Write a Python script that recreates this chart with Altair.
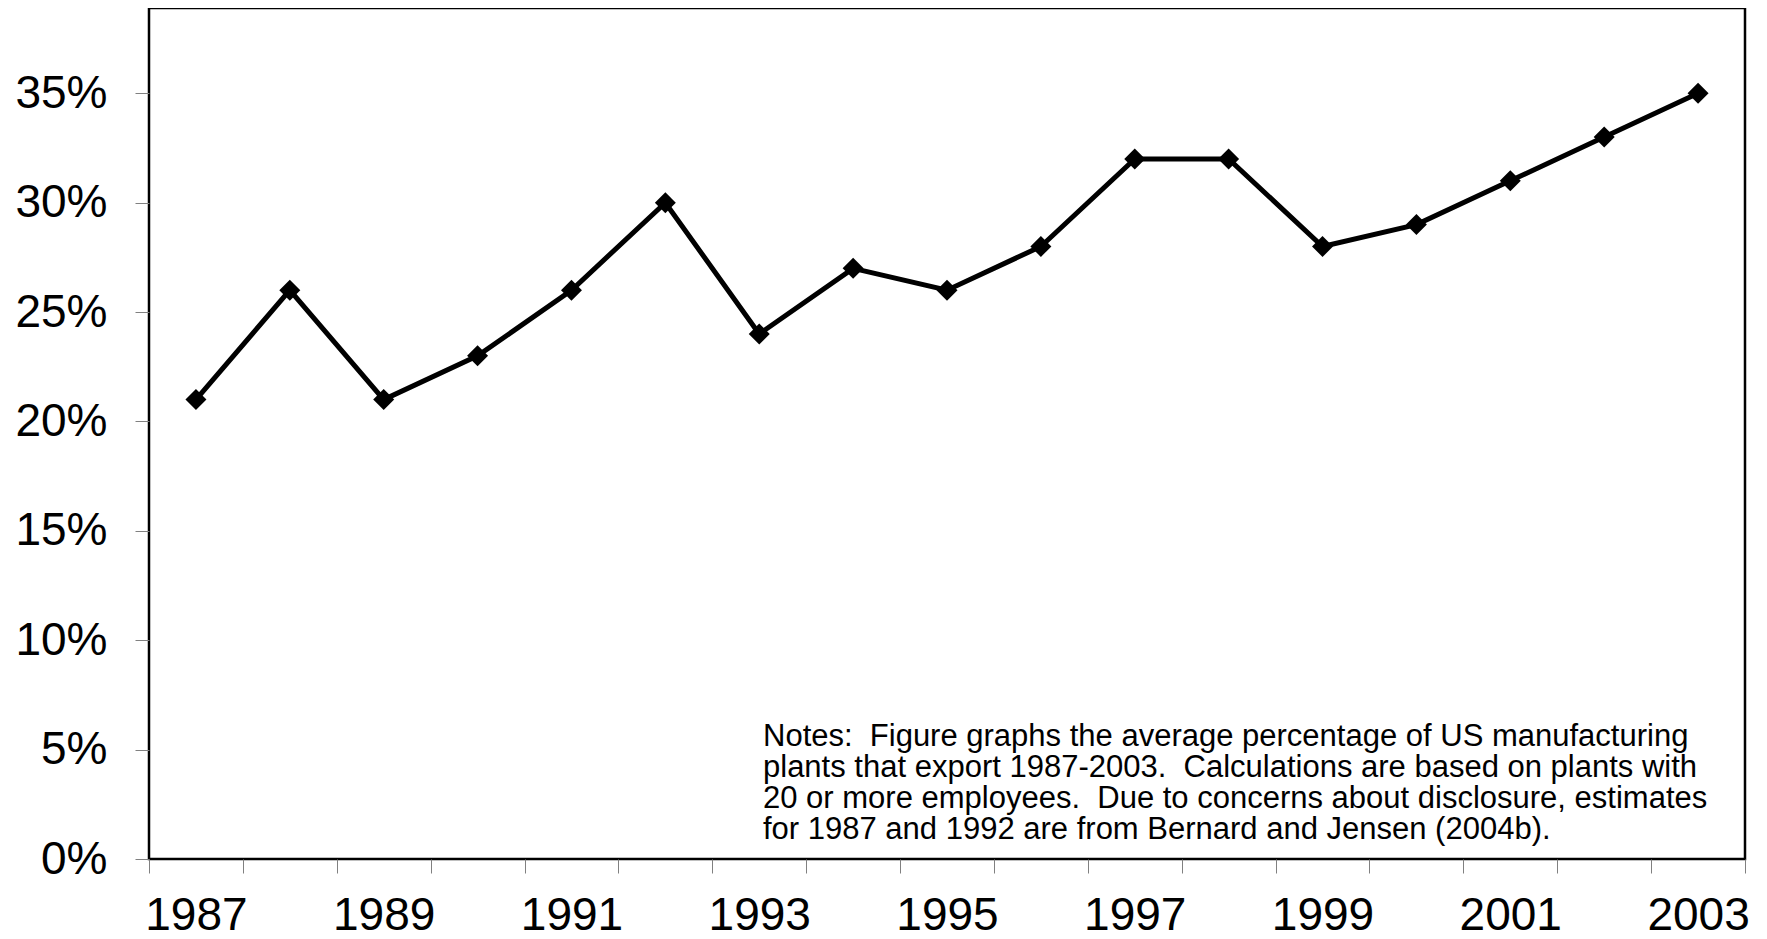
import altair as alt
import pandas as pd

years = [str(y) for y in range(1987, 2004)]
share = [0.21, 0.26, 0.21, 0.23, 0.26, 0.30, 0.24, 0.27, 0.26, 0.28,
         0.32, 0.32, 0.28, 0.29, 0.31, 0.33, 0.35]
y_ticks = [0, 0.05, 0.10, 0.15, 0.20, 0.25, 0.30, 0.35]
NB = "\u00a0"
notes_lines = [
    "Notes:" + NB + " Figure graphs the average percentage of US manufacturing",
    "plants that export 1987-2003." + NB + " Calculations are based on plants with",
    "20 or more employees." + NB + " Due to concerns about disclosure, estimates",
    "for 1987 and 1992 are from Bernard and Jensen (2004b).",
]

df = pd.DataFrame({"year": years, "share": share})

W, H = 1596, 851
FONT = "Liberation Sans"

x_enc = alt.X(
    "year:O",
    sort=years,
    scale=alt.Scale(type="band", paddingInner=0, paddingOuter=0),
    axis=alt.Axis(
        title=None,
        tickBand="extent",
        labelExpr="toNumber(datum.value) % 2 == 1 ? datum.label : ''",
        labelOverlap=False,
        labelBound=False,
        labelAngle=0,
        labelFont=FONT,
        labelFontSize=46,
        labelColor="black",
        labelPadding=20,
        labelBaseline="top",
        tickColor="#808080",
        tickWidth=1,
        tickSize=14,
        domain=False,
        grid=False,
    ),
)
y_enc = alt.Y(
    "share:Q",
    scale=alt.Scale(domain=[0, 0.389], nice=False, zero=True),
    axis=alt.Axis(
        title=None,
        values=y_ticks,
        format=".0%",
        labelFont=FONT,
        labelFontSize=46,
        labelColor="black",
        labelPadding=28,
        tickColor="#808080",
        tickWidth=1,
        tickSize=14,
        domain=False,
        grid=False,
    ),
)

line = alt.Chart(df).mark_line(color="black", strokeWidth=5).encode(x=x_enc, y=y_enc)
pts = alt.Chart(df).mark_point(
    shape="diamond", filled=True, color="black", size=440, opacity=1
).encode(x=x_enc, y=y_enc)

notes = alt.Chart(pd.DataFrame({"t": [0]})).mark_text(
    text=notes_lines,
    align="left",
    baseline="top",
    font=FONT,
    fontSize=31,
    lineHeight=31,
    color="black",
).encode(x=alt.value(614), y=alt.value(714))

chart = (
    alt.layer(line, pts, notes)
    .properties(
        width=W,
        height=H,
        autosize=alt.AutoSizeParams(type="none"),
        padding={"left": 141, "top": 0, "right": 14, "bottom": 78},
        background="white",
    )
    .configure_view(stroke="black", strokeWidth=2.5)
)

chart.save("out.html", embed_options={"renderer": "svg", "actions": False})
